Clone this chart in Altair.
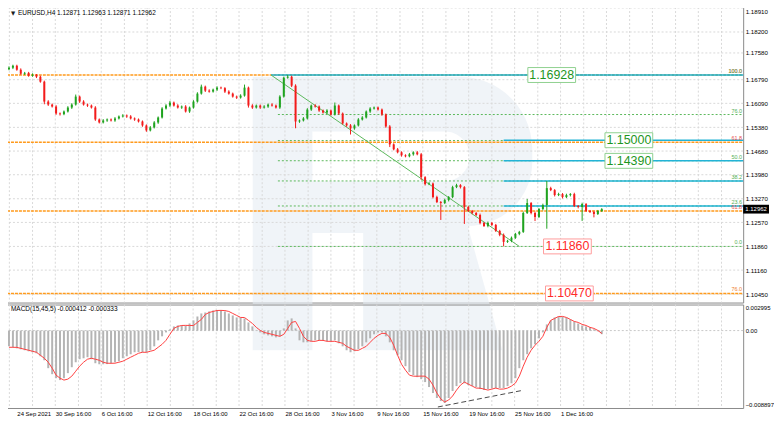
import json
import altair as alt
import pandas as pd

# ---------------- data ----------------
closes = [1.17143, 1.17202, 1.17084, 1.16966, 1.16990, 1.16907, 1.16937, 1.16878, 1.16731, 1.16143,
          1.16054, 1.15996, 1.15790, 1.15770, 1.15849, 1.15966, 1.16054, 1.16290, 1.16143, 1.16054,
          1.16025, 1.15966, 1.15613, 1.15525, 1.15584, 1.15613, 1.15584, 1.15643, 1.15702, 1.15731,
          1.15702, 1.15643, 1.15613, 1.15554, 1.15437, 1.15290, 1.15378, 1.15525, 1.15672, 1.15937,
          1.16025, 1.16113, 1.16025, 1.15966, 1.15996, 1.15849, 1.15966, 1.16143, 1.16378, 1.16584,
          1.16466, 1.16437, 1.16496, 1.16555, 1.16540, 1.16437, 1.16378, 1.16290, 1.16260, 1.16319,
          1.16555, 1.16025, 1.15966, 1.16025, 1.15966, 1.15996, 1.16054, 1.16025, 1.15966, 1.16290,
          1.16849, 1.16878, 1.16613, 1.15554, 1.15584, 1.15643, 1.15907, 1.16025, 1.15996, 1.15878,
          1.15819, 1.15878, 1.15760, 1.16025, 1.15790, 1.15496, 1.15437, 1.15349, 1.15437, 1.15613,
          1.15672, 1.15849, 1.15937, 1.15966, 1.15907, 1.15760, 1.15407, 1.14878, 1.14731, 1.14643,
          1.14554, 1.14525, 1.14584, 1.14643, 1.14584, 1.13907, 1.13702, 1.13720, 1.13319, 1.13172,
          1.13143, 1.13231, 1.13319, 1.13613, 1.13672, 1.13613, 1.13025, 1.12908, 1.12849, 1.12790,
          1.12555, 1.12466, 1.12555, 1.12496, 1.12319, 1.12202, 1.11995, 1.12025, 1.12113, 1.12231,
          1.12290, 1.12849, 1.13143, 1.12849, 1.12731, 1.12966, 1.13084, 1.13584, 1.13525, 1.13378,
          1.13407, 1.13319, 1.13378, 1.13407, 1.13054, 1.13025, 1.13113, 1.12908, 1.12878, 1.12819,
          1.12908, 1.12962]
first_open = 1.17100
wick_up_pips = [4, 3, 3, 4, 3, 3, 4, 2, 3, 3, 4, 3, 4, 3, 3, 4, 4, 6, 3, 4,
                3, 3, 4, 3, 4, 3, 3, 4, 3, 4, 3, 4, 3, 3, 3, 3, 4, 4, 3, 4,
                4, 5, 3, 4, 3, 4, 3, 4, 4, 6, 3, 4, 3, 4, 3, 3, 4, 3, 3, 4,
                9, 3, 4, 3, 3, 4, 3, 4, 3, 4, 3, 5, 3, 4, 3, 4, 4, 3, 4, 3,
                3, 4, 3, 9, 3, 3, 3, 4, 3, 4, 4, 3, 4, 3, 3, 3, 3, 4, 3, 4,
                3, 3, 4, 3, 4, 4, 3, 4, 3, 4, 3, 4, 3, 4, 4, 3, 3, 4, 3, 3,
                4, 3, 4, 3, 3, 3, 4, 3, 4, 3, 3, 4, 12, 3, 4, 3, 4, 21, 4, 3,
                4, 3, 4, 3, 4, 3, 4, 3, 3, 4, 3, 3]
wick_dn_pips = [3, 4, 3, 3, 4, 3, 3, 4, 3, 8, 4, 3, 4, 4, 3, 3, 4, 3, 4, 3,
                4, 3, 4, 3, 3, 4, 3, 4, 3, 3, 4, 3, 4, 3, 4, 4, 3, 3, 4, 3,
                3, 4, 3, 3, 4, 3, 4, 3, 3, 3, 4, 3, 3, 4, 3, 4, 3, 3, 4, 3,
                3, 6, 4, 3, 4, 3, 4, 3, 3, 4, 3, 3, 4, 20, 4, 3, 3, 4, 3, 4,
                3, 4, 3, 3, 4, 3, 4, 18, 4, 3, 3, 3, 4, 3, 3, 4, 4, 8, 3, 3,
                4, 3, 3, 4, 3, 8, 4, 3, 4, 3, 50, 3, 4, 3, 3, 4, 50, 3, 4, 3,
                4, 3, 4, 3, 3, 4, 13, 3, 4, 3, 4, 3, 3, 4, 12, 3, 4, 70, 3, 4,
                3, 4, 3, 4, 3, 4, 41, 3, 3, 10, 3, 3]
macd_hist = [-0.00181, -0.00192, -0.00204, -0.00215, -0.00226, -0.00238, -0.00249, -0.00261, -0.00295, -0.00341,
             -0.00432, -0.00501, -0.00547, -0.00569, -0.00547, -0.00489, -0.00421, -0.00364, -0.00329, -0.00318,
             -0.00306, -0.00329, -0.00375, -0.00387, -0.00387, -0.00385, -0.00375, -0.00364, -0.00352, -0.00318,
             -0.00295, -0.00272, -0.00249, -0.00247, -0.00251, -0.00249, -0.00226, -0.00181, -0.00112, -0.00066,
             -0.00021, 0.00014, 0.00048, 0.00059, 0.00060, 0.00058, 0.00082, 0.00117, 0.00162, 0.00197,
             0.00208, 0.00220, 0.00231, 0.00233, 0.00230, 0.00220, 0.00197, 0.00174, 0.00151, 0.00150,
             0.00140, 0.00094, 0.00048, 0.00002, -0.00021, -0.00043, -0.00055, -0.00066, -0.00078, -0.00066,
             0.00025, 0.00117, 0.00140, 0.00025, -0.00112, -0.00135, -0.00134, -0.00123, -0.00112, -0.00113,
             -0.00112, -0.00123, -0.00124, -0.00112, -0.00146, -0.00181, -0.00226, -0.00249, -0.00238, -0.00215,
             -0.00181, -0.00135, -0.00089, -0.00043, -0.00021, -0.00022, -0.00066, -0.00135, -0.00226, -0.00284,
             -0.00341, -0.00409, -0.00478, -0.00512, -0.00535, -0.00558, -0.00592, -0.00649, -0.00718, -0.00775,
             -0.00810, -0.00832, -0.00775, -0.00695, -0.00638, -0.00604, -0.00605, -0.00627, -0.00638, -0.00649,
             -0.00672, -0.00684, -0.00673, -0.00661, -0.00662, -0.00660, -0.00661, -0.00638, -0.00604, -0.00547,
             -0.00432, -0.00341, -0.00272, -0.00204, -0.00158, -0.00089, -0.00021, 0.00071, 0.00117, 0.00151,
             0.00162, 0.00161, 0.00151, 0.00128, 0.00105, 0.00082, 0.00059, 0.00048, 0.00037, 0.00014,
             -0.00009, -0.000412]
macd_signal = [-0.00192, -0.00192, -0.00193, -0.00204, -0.00215, -0.00226, -0.00238, -0.00249, -0.00284, -0.00318,
               -0.00364, -0.00432, -0.00512, -0.00547, -0.00569, -0.00558, -0.00524, -0.00467, -0.00409, -0.00364,
               -0.00329, -0.00318, -0.00329, -0.00341, -0.00364, -0.00375, -0.00376, -0.00375, -0.00364, -0.00352,
               -0.00329, -0.00306, -0.00284, -0.00261, -0.00249, -0.00250, -0.00238, -0.00226, -0.00192, -0.00158,
               -0.00112, -0.00043, 0.00025, 0.00048, 0.00059, 0.00060, 0.00059, 0.00058, 0.00094, 0.00128,
               0.00185, 0.00208, 0.00220, 0.00231, 0.00232, 0.00230, 0.00220, 0.00197, 0.00174, 0.00151,
               0.00150, 0.00117, 0.00082, 0.00037, 0.00002, -0.00021, -0.00032, -0.00043, -0.00055, -0.00066,
               -0.00043, 0.00025, 0.00094, 0.00105, 0.00025, -0.00066, -0.00112, -0.00123, -0.00124, -0.00112,
               -0.00113, -0.00123, -0.00124, -0.00123, -0.00135, -0.00146, -0.00181, -0.00204, -0.00226, -0.00227,
               -0.00204, -0.00181, -0.00135, -0.00089, -0.00055, -0.00032, -0.00033, -0.00078, -0.00169, -0.00284,
               -0.00387, -0.00455, -0.00512, -0.00524, -0.00525, -0.00523, -0.00524, -0.00558, -0.00627, -0.00718,
               -0.00786, -0.00821, -0.00798, -0.00752, -0.00684, -0.00627, -0.00592, -0.00615, -0.00638, -0.00661,
               -0.00662, -0.00672, -0.00684, -0.00672, -0.00661, -0.00673, -0.00672, -0.00661, -0.00638, -0.00604,
               -0.00524, -0.00409, -0.00306, -0.00226, -0.00169, -0.00123, -0.00066, 0.00037, 0.00117, 0.00140,
               0.00162, 0.00163, 0.00151, 0.00128, 0.00105, 0.00094, 0.00071, 0.00059, 0.00037, 0.00025,
               0.00002, -0.000333]

price_ticks = [1.18910, 1.18200, 1.17580, 1.16790, 1.16090, 1.15380, 1.14680,
               1.13980, 1.13270, 1.12570, 1.11860, 1.11160, 1.10450]
macd_ticks = [0.002995, 0.0, -0.008897]
x_grid = [0.1, 6.0, 11.8, 17.7, 23.5, 29.4, 35.2, 41.1, 46.9, 52.8, 58.6, 64.5, 70.3, 76.2,
          82.0, 87.9, 93.7, 99.6, 105.4, 111.3, 117.1, 123.0, 128.8, 134.7, 140.5, 146.4,
          152.2, 158.1, 163.9, 169.8, 175.6, 181.5]
x_label_at = [2.0, 11.8, 23.5, 35.2, 46.9, 58.6, 70.3, 82.0, 93.7, 105.4, 117.1, 128.8, 140.5]
x_labels = ["24 Sep 2021", "30 Sep 16:00", "6 Oct 16:00", "12 Oct 16:00", "18 Oct 16:00",
            "22 Oct 16:00", "28 Oct 16:00", "3 Nov 16:00", "9 Nov 16:00", "15 Nov 16:00",
            "19 Nov 16:00", "25 Nov 16:00", "1 Dec 16:00"]

orange_prices = [1.16928, 1.14940, 1.12907, 1.10470]
fib_prices = [1.16928, 1.15760, 1.14992, 1.14394, 1.13796, 1.13056, 1.11860]
fib_start = 68.5
cyan_prices = [1.16928, 1.15000, 1.14390, 1.13796, 1.13056]
cyan_start = [66.75, 126.0, 126.0, 126.0, 126.0]
trend_from = (66.75, 1.16928)
trend_to = (130.0, 1.11860)

level_labels = ["100.0", "100.0", "76.0", "61.8", "50.0", "38.2", "23.6", "61.8", "0.0", "76.0"]
level_label_prices = [1.16928, 1.16928, 1.15760, 1.14940, 1.14394, 1.13796, 1.13056, 1.12907, 1.11860, 1.10470]
level_label_colors = ["#e85050", "#58b058", "#58b058", "#e85050", "#58b058", "#58b058", "#58b058",
                      "#e85050", "#58b058", "#f08030"]

box_texts = ["1.16928", "1.15000", "1.14390", "1.11860", "1.10470"]
box_prices = [1.16928, 1.15000, 1.14390, 1.11860, 1.10470]
box_at = [138.25, 157.9, 157.9, 142.25, 142.75]
box_text_colors = ["#1e961e", "#1e961e", "#1e961e", "#ff2a2a", "#ff2a2a"]
box_edge_colors = ["#8fd18f", "#8fd18f", "#8fd18f", "#ff9c9c", "#ff9c9c"]

last_price = 1.12962
div_from = (109.25, -0.00878)
div_to = (130.5, -0.00690)

# ---------------- tables ----------------
opens = [first_open] + closes[:-1]
rows = []
for i, c in enumerate(closes):
    o = opens[i]
    rows.append(dict(i=i, open=o, close=c,
                     high=max(o, c) + wick_up_pips[i] * 1e-4,
                     low=min(o, c) - wick_dn_pips[i] * 1e-4,
                     up=bool(c >= o), hist=macd_hist[i], signal=macd_signal[i], zero=0.0))
df = pd.DataFrame(rows)

FONT = "Liberation Sans"
GREEN = "#1fa31f"
RED = "#f31b1b"
GRID = "#d9d9d9"
W = 744          # plot width
HM = 301         # price pane height
HD = 104         # MACD pane height

xscale = alt.Scale(domain=[-0.25, -0.25 + W / 4.0], nice=False, zero=False)
yscale = alt.Scale(domain=[1.19054 - HM / 3400.0, 1.19054], nice=False, zero=False)
mscale = alt.Scale(domain=[-0.008897, 0.002995], nice=False, zero=False)

lab_expr = "indexof(%s, datum.value) >= 0 ? %s[indexof(%s, datum.value)] : ''" % (
    json.dumps(x_label_at), json.dumps(x_labels), json.dumps(x_label_at))
x_axis_macd = alt.Axis(values=x_label_at, labelExpr=lab_expr, grid=False, ticks=False, domain=False,
                       labelAlign="left", labelPadding=3, labelOverlap=False, labelFontSize=6.0, title=None)
y_axis_main = alt.Axis(orient="right", values=price_ticks, format=".5f", grid=False, domain=False,
                       ticks=False, labelPadding=2, labelOverlap=False, labelFontSize=6.2, title=None,
                       labelOffset={"condition": {"test": "datum.value > 1.188", "value": 4}, "value": 0})
y_axis_macd = alt.Axis(orient="right", values=macd_ticks,
                       labelExpr="datum.value == 0 ? '0.00' : format(datum.value, '.6f')",
                       grid=False, domain=False, ticks=False, labelPadding=2, labelFontSize=6.0,
                       labelFlush=True, labelOverlap=False, title=None)

X = lambda f: alt.X(f, scale=xscale, axis=None)
Y = lambda f: alt.Y(f, scale=yscale, axis=y_axis_main)

one = pd.DataFrame({"k": [0]})
vgrid_df = pd.DataFrame({"g": x_grid})
hgrid_df = pd.DataFrame({"p": price_ticks})

# faint "R" logo watermark drawn as a symbol
R_SHAPE = ("M-1,-0.979H0.48A0.52,0.52 0 0 1 1,-0.459V-0.374A0.46,0.46 0 0 1 0.538,0.089"
           "L0.786,0.979H-0.21V0.139H-0.573V0.979H-1Z"
           "M-0.573,-0.587V-0.231H0.374A0.178,0.178 0 0 0 0.374,-0.587Z")
watermark = alt.Chart(one).mark_point(
    shape=R_SHAPE, size=78961, filled=True, color="#e6ecf4", opacity=0.6, strokeWidth=0
).encode(x=alt.value(391.5), y=alt.value(211.5))

vgrid = alt.Chart(vgrid_df).mark_rule(color=GRID, strokeWidth=1, strokeDash=[2, 2]).encode(x=X("g:Q"))
hgrid = alt.Chart(hgrid_df).mark_rule(color=GRID, strokeWidth=1, strokeDash=[2, 2]).encode(y=Y("p:Q"))

orange_df = pd.DataFrame({"price": orange_prices})
orange = alt.Chart(orange_df).mark_rule(color="#ff9a1c", strokeWidth=1.4, strokeDash=[3, 1]).encode(
    y=Y("price:Q"), x=alt.value(0), x2=alt.value(W))

fib_df = pd.DataFrame({"price": fib_prices, "start": [fib_start] * len(fib_prices)})
fib = alt.Chart(fib_df).mark_rule(color="#5cb85c", strokeWidth=1, strokeDash=[2, 2]).encode(
    x=X("start:Q"), x2=alt.value(W), y=Y("price:Q"))

cyan_df = pd.DataFrame({"price": cyan_prices, "start": cyan_start})
cyan = alt.Chart(cyan_df).mark_rule(color="#22b3d6", strokeWidth=1.5).encode(
    x=X("start:Q"), x2=alt.value(W), y=Y("price:Q"))

trend_df = pd.DataFrame({"x1": [trend_from[0]], "x2": [trend_to[0]], "y1": [trend_from[1]], "y2": [trend_to[1]]})
trend = alt.Chart(trend_df).mark_rule(color="#5cb85c", strokeWidth=1).encode(
    x=X("x1:Q"), x2="x2:Q", y=Y("y1:Q"), y2="y2:Q")

candle_color = alt.condition("datum.up", alt.value(GREEN), alt.value(RED))
wicks = alt.Chart(df).mark_rule(strokeWidth=1).encode(
    x=X("i:Q"), y=Y("low:Q"), y2="high:Q", color=candle_color)
bodies = alt.Chart(df).mark_bar(width=2).encode(
    x=X("i:Q"), y=Y("open:Q"), y2="close:Q", color=candle_color)

box_df = pd.DataFrame({"t": box_texts, "price": box_prices, "at": box_at,
                       "tc": box_text_colors, "ec": box_edge_colors})
boxes = alt.Chart(box_df).mark_point(
    shape="M-1,-0.3125H1V0.3125H-1Z", size=2304, filled=True, fill="white", strokeWidth=1, opacity=1
).encode(x=X("at:Q"), y=Y("price:Q"), stroke=alt.Stroke("ec:N", scale=None))
box_text = alt.Chart(box_df).mark_text(font=FONT, fontSize=12.5, align="center", baseline="middle").encode(
    x=X("at:Q"), y=Y("price:Q"), text="t:N", color=alt.Color("tc:N", scale=None))

lvl_df = pd.DataFrame({"t": level_labels, "price": level_label_prices, "c": level_label_colors})
lvl_text = alt.Chart(lvl_df).mark_text(font=FONT, fontSize=5.5, align="right", baseline="bottom", dy=-1).encode(
    x=alt.value(W - 1), y=Y("price:Q"), text="t:N", color=alt.Color("c:N", scale=None))

title_df = pd.DataFrame({"t": ["EURUSD,H4  1.12871 1.12963 1.12871 1.12962"]})
title_tri = alt.Chart(one).mark_text(text="\u25bc", font="DejaVu Sans", fontSize=5.5, color="#202020",
                                     align="left", baseline="middle").encode(x=alt.value(8), y=alt.value(10))
title = alt.Chart(title_df).mark_text(font=FONT, fontSize=6.5, color="#000000", align="left",
                                      baseline="middle").encode(x=alt.value(15), y=alt.value(10), text="t:N")

last_df = pd.DataFrame({"price": [last_price], "t": ["1.12962"]})
last_box = alt.Chart(last_df).mark_point(
    shape="M-1,-0.34H1V0.34H-1Z", size=676, filled=True, fill="#000000", strokeWidth=0, opacity=1
).encode(x=alt.value(W + 13), y=Y("price:Q"))
last_text = alt.Chart(last_df).mark_text(font=FONT, fontSize=6.0, color="white", align="center",
                                         baseline="middle").encode(x=alt.value(W + 13), y=Y("price:Q"), text="t:N")

main = alt.layer(watermark, vgrid, hgrid, orange, fib, cyan, trend, wicks, bodies, boxes, box_text,
                 lvl_text, title_tri, title, last_box, last_text).properties(width=W, height=HM)

# ---------------- MACD pane ----------------
XM = lambda f: alt.X(f, scale=xscale, axis=x_axis_macd)
YM = lambda f: alt.Y(f, scale=mscale, axis=y_axis_macd)
mvgrid = alt.Chart(vgrid_df).mark_rule(color=GRID, strokeWidth=1, strokeDash=[2, 2]).encode(x=XM("g:Q"))
zline = alt.Chart(one).mark_rule(color="#c8c8c8", strokeWidth=1, strokeDash=[2, 2]).encode(
    y=YM("z:Q")).transform_calculate(z="0")
hist = alt.Chart(df).mark_bar(width=2, color="#b4b4b4").encode(x=XM("i:Q"), y=YM("hist:Q"), y2="zero:Q")
sig = alt.Chart(df).mark_line(color="#ff4040", strokeWidth=1).encode(x=XM("i:Q"), y=YM("signal:Q"))
div_df = pd.DataFrame({"x1": [div_from[0]], "x2": [div_to[0]], "y1": [div_from[1]], "y2": [div_to[1]]})
div = alt.Chart(div_df).mark_rule(color="#4a4a4a", strokeWidth=1, strokeDash=[5, 3]).encode(
    x=XM("x1:Q"), x2="x2:Q", y=YM("y1:Q"), y2="y2:Q")
mtitle_df = pd.DataFrame({"t": ["MACD(15,45,5) -0.000412 -0.000333"]})
mtitle = alt.Chart(mtitle_df).mark_text(font=FONT, fontSize=6.5, color="#000000", align="left",
                                        baseline="middle").encode(x=alt.value(8), y=alt.value(5), text="t:N")
macd = alt.layer(mvgrid, zline, hist, sig, div, mtitle).properties(width=W, height=HD)

chart = alt.vconcat(main, macd, spacing=2, bounds="flush").properties(
    padding={"left": -7, "top": -7, "right": -1, "bottom": 2}, background="white"
).configure_view(stroke="#8a8a8a", strokeWidth=1).configure_axis(
    labelFont=FONT, labelFontSize=6.2, labelColor="#000000")

chart.save("out.html", embed_options={"renderer": "svg", "actions": False})
